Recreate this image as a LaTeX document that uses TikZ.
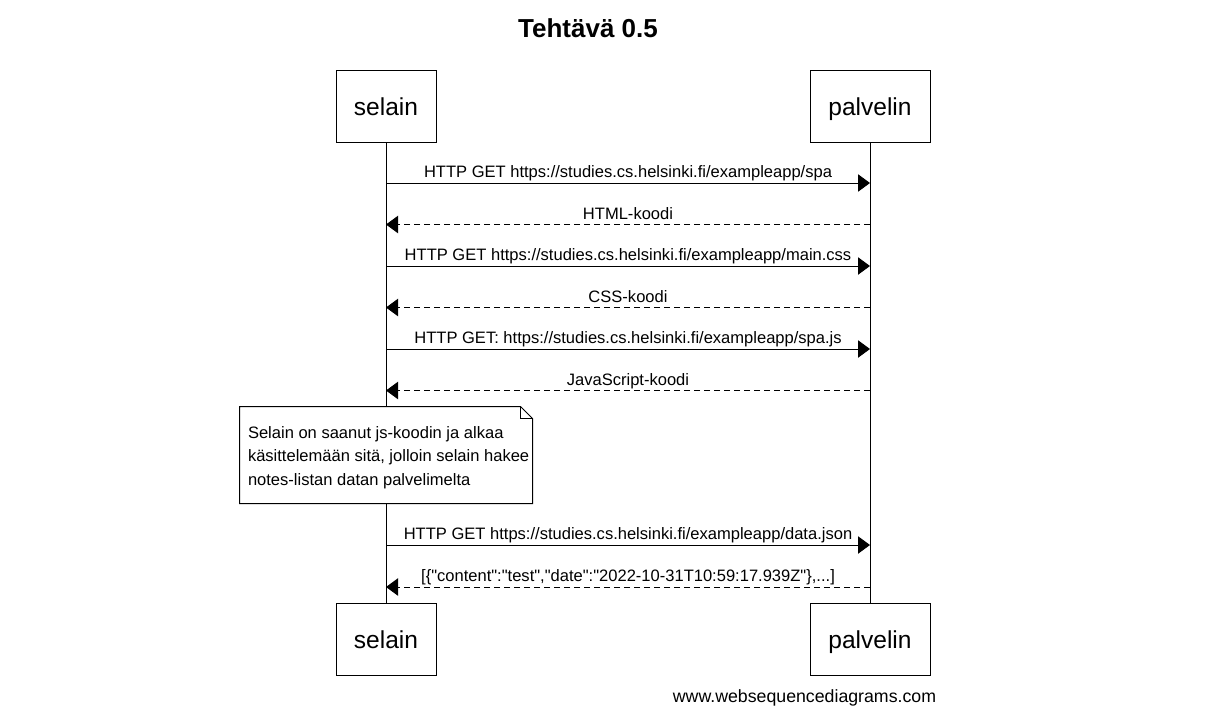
\documentclass[tikz,border=0pt]{standalone}
\usepackage{fontspec}
\setmainfont{Liberation Sans}[Ligatures=TeXOff]
\usetikzlibrary{arrows.meta,positioning}

\begin{document}
\begin{tikzpicture}[x=0.75pt,y=-0.75pt,line width=0.75pt,
        actor/.style={draw,inner sep=0pt,minimum height=54pt,text height=13.5pt,text depth=0pt,font=\fontsize{18.4}{20}\selectfont},
        msg/.style={-{Triangle[length=9pt,width=13pt]}},
        reply/.style={msg,dash pattern=on 4.5pt off 3pt},
        lbl/.style={anchor=base,yshift=4pt,inner sep=0pt,font=\fontsize{12.4}{14}\selectfont}]
    \useasboundingbox (0,0) rectangle (1223,722);
        \node[anchor=base,font=\bfseries\fontsize{19.5}{22}\selectfont] (title) at (588,37) {Tehtävä 0.5};
        \node[actor,minimum width=75pt] (selainTop)   at (386,106) {selain};
        \node[actor,minimum width=90pt] (palvelinTop) at (870,106) {palvelin};
        \node[actor,minimum width=75pt] (selainBot)   at (386,639) {selain};
        \node[actor,minimum width=90pt] (palvelinBot) at (870,639) {palvelin};
        \node[minimum width=219pt,minimum height=72pt] (note) at (386,455) {};
        \node[anchor=north west,inner sep=0pt,align=left,font=\fontsize{12.4}{17.6}\selectfont] (noteText) at ([xshift=6pt,yshift=-14.6pt]note.north west)
            {Selain on saanut js-koodin ja alkaa\\käsittelemään sitä, jolloin selain hakee\\notes-listan datan palvelimelta};
        \draw (note.north west) -- ([xshift=-9pt]note.north east) -- ([yshift=-9pt]note.north east) -- (note.south east) -- (note.south west) -- cycle;
        \draw ([xshift=-9pt]note.north east) |- ([yshift=-9pt]note.north east);
        \draw (selainTop) -- (note);
        \draw (note) -- (selainBot);
        \draw (palvelinTop) -- (palvelinBot);
        \foreach \y [count=\i] in {183,224.5,266,307.5,349,390.5,545,587}{
            \coordinate (s\i) at (386,\y);
            \coordinate (p\i) at (870,\y);
        }
        \draw[msg]   (s1) -- node[lbl]{HTTP GET https://studies.cs.helsinki.fi/exampleapp/spa} (p1);
        \draw[reply] (p2) -- node[lbl]{HTML-koodi} (s2);
        \draw[msg]   (s3) -- node[lbl]{HTTP GET https://studies.cs.helsinki.fi/exampleapp/main.css} (p3);
        \draw[reply] (p4) -- node[lbl]{CSS-koodi} (s4);
        \draw[msg]   (s5) -- node[lbl]{HTTP GET: https://studies.cs.helsinki.fi/exampleapp/spa.js} (p5);
        \draw[reply] (p6) -- node[lbl]{JavaScript-koodi} (s6);
        \draw[msg]   (s7) -- node[lbl]{HTTP GET https://studies.cs.helsinki.fi/exampleapp/data.json} (p7);
        \draw[reply] (p8) -- node[lbl]{[\{"content":"test","date":"2022-10-31T10:59:17.939Z"\},...]} (s8);
        \node[anchor=base,font=\fontsize{13.3}{15}\selectfont] (footer) at (804.5,702) {www.websequencediagrams.com};
    \end{tikzpicture}
\end{document}
